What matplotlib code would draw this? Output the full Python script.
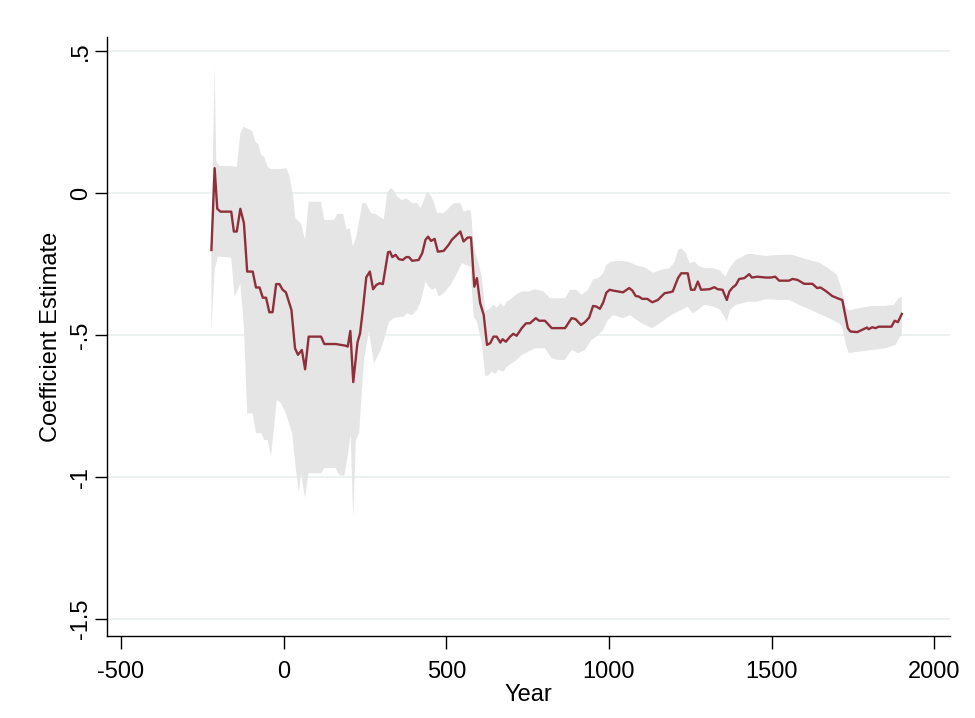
import numpy as np
import matplotlib.pyplot as plt

plt.rcParams['font.family'] = ['Liberation Sans', 'DejaVu Sans']
plt.rcParams['axes.unicode_minus'] = False

# rolling coefficient estimate
anni = [-222, -212, -204, -194, -161, -153, -144, -133, -122, -112, -95, -85, -74, -64, -54, -44, -34, -23, -13, -3,
        7, 24, 35, 44, 56, 66, 77, 115, 125, 160, 191, 197, 205, 214, 227, 235, 244, 254, 265, 275,
        285, 295, 305, 321, 327, 334, 344, 354, 366, 377, 385, 395, 415, 426, 436, 444, 453, 464, 474, 492,
        507, 517, 543, 553, 566, 576, 586, 594, 604, 615, 625, 635, 645, 655, 666, 673, 683, 696, 706, 716,
        732, 745, 757, 775, 785, 803, 824, 865, 885, 897, 914, 926, 939, 951, 961, 972, 982, 992, 1002, 1013,
        1043, 1062, 1072, 1082, 1092, 1102, 1118, 1125, 1133, 1150, 1171, 1186, 1196, 1212, 1222, 1242, 1252, 1263, 1273, 1283,
        1309, 1324, 1334, 1349, 1362, 1370, 1380, 1390, 1400, 1416, 1431, 1439, 1456, 1482, 1497, 1511, 1523, 1553, 1564, 1579,
        1600, 1625, 1640, 1650, 1666, 1686, 1707, 1717, 1727, 1734, 1742, 1763, 1778, 1793, 1798, 1809, 1819, 1829, 1868, 1878,
        1888, 1900]
coef = [-0.200, 0.088, -0.055, -0.065, -0.065, -0.135, -0.135, -0.055, -0.106, -0.276, -0.276, -0.332, -0.332, -0.368, -0.368, -0.419, -0.419, -0.320, -0.320, -0.340,
        -0.349, -0.411, -0.546, -0.569, -0.552, -0.620, -0.505, -0.505, -0.531, -0.531, -0.537, -0.540, -0.485, -0.665, -0.525, -0.493, -0.405, -0.296, -0.276, -0.338,
        -0.323, -0.317, -0.320, -0.208, -0.206, -0.225, -0.217, -0.232, -0.235, -0.225, -0.225, -0.238, -0.235, -0.211, -0.164, -0.153, -0.168, -0.161, -0.206, -0.203,
        -0.182, -0.164, -0.135, -0.170, -0.156, -0.156, -0.329, -0.299, -0.387, -0.429, -0.534, -0.528, -0.505, -0.505, -0.526, -0.514, -0.523, -0.505, -0.495, -0.502,
        -0.475, -0.458, -0.458, -0.440, -0.449, -0.449, -0.475, -0.475, -0.440, -0.443, -0.464, -0.454, -0.438, -0.397, -0.399, -0.407, -0.385, -0.350, -0.340, -0.343,
        -0.349, -0.334, -0.343, -0.362, -0.364, -0.372, -0.372, -0.378, -0.384, -0.376, -0.352, -0.349, -0.346, -0.299, -0.282, -0.282, -0.340, -0.340, -0.311, -0.340,
        -0.338, -0.331, -0.338, -0.340, -0.376, -0.346, -0.332, -0.323, -0.302, -0.299, -0.285, -0.297, -0.294, -0.297, -0.297, -0.294, -0.308, -0.308, -0.302, -0.305,
        -0.319, -0.319, -0.334, -0.332, -0.344, -0.362, -0.372, -0.376, -0.434, -0.475, -0.487, -0.489, -0.481, -0.473, -0.479, -0.472, -0.475, -0.470, -0.470, -0.449,
        -0.454, -0.425]

# upper bound of the confidence band
anni_sup = [-222, -212, -207, -197, -161, -144, -133, -123, -97, -87, -77, -69, -59, -49, -39, -13, 9, 17, 28, 36,
            53, 66, 77, 115, 125, 155, 165, 183, 193, 203, 213, 224, 242, 252, 269, 283, 293, 308, 318, 329,
            339, 349, 364, 375, 385, 395, 410, 421, 431, 441, 451, 461, 472, 492, 507, 523, 543, 553, 569, 576,
            584, 599, 609, 620, 635, 645, 655, 666, 676, 686, 701, 716, 732, 752, 773, 798, 819, 865, 880, 900,
            915, 936, 951, 967, 982, 992, 1007, 1028, 1058, 1089, 1110, 1135, 1166, 1186, 1201, 1212, 1222, 1237, 1247, 1263,
            1276, 1293, 1319, 1339, 1358, 1370, 1390, 1411, 1426, 1441, 1456, 1482, 1523, 1564, 1604, 1645, 1671, 1701, 1717, 1727,
            1737, 1768, 1809, 1849, 1875, 1890, 1900]
ci_sup = [-0.147, 0.446, 0.111, 0.096, 0.096, 0.092, 0.211, 0.234, 0.220, 0.182, 0.170, 0.135, 0.127, 0.092, 0.085, 0.085, 0.088, 0.064, 0.000, -0.088,
          -0.106, -0.164, -0.030, -0.030, -0.094, -0.094, -0.073, -0.073, -0.129, -0.123, -0.188, -0.149, -0.035, -0.035, -0.070, -0.073, -0.082, -0.092, 0.000, 0.018,
          0.009, -0.012, -0.024, -0.018, -0.024, -0.035, -0.035, -0.053, -0.024, 0.006, -0.006, -0.030, -0.070, -0.070, -0.053, -0.035, -0.035, -0.065, -0.059, -0.065,
          -0.188, -0.246, -0.294, -0.417, -0.405, -0.393, -0.403, -0.387, -0.399, -0.382, -0.370, -0.355, -0.346, -0.346, -0.338, -0.346, -0.370, -0.370, -0.340, -0.340,
          -0.358, -0.340, -0.303, -0.299, -0.282, -0.252, -0.241, -0.238, -0.241, -0.256, -0.261, -0.280, -0.268, -0.264, -0.244, -0.200, -0.194, -0.211, -0.246, -0.241,
          -0.256, -0.264, -0.264, -0.270, -0.294, -0.264, -0.235, -0.223, -0.214, -0.214, -0.217, -0.221, -0.217, -0.217, -0.232, -0.244, -0.262, -0.288, -0.346, -0.399,
          -0.413, -0.405, -0.397, -0.397, -0.393, -0.370, -0.364]

# lower bound of the confidence band
anni_inf = [-222, -212, -202, -161, -151, -141, -133, -122, -112, -95, -85, -69, -59, -49, -39, -21, -8, 7, 26, 38,
            47, 53, 66, 76, 115, 125, 160, 171, 186, 196, 206, 214, 222, 232, 247, 262, 278, 298, 308, 324,
            339, 359, 369, 380, 395, 410, 421, 436, 446, 456, 467, 477, 492, 513, 533, 548, 559, 574, 584, 594,
            609, 620, 630, 640, 650, 660, 676, 686, 701, 716, 732, 752, 773, 803, 824, 844, 865, 885, 905, 926,
            946, 967, 982, 997, 1013, 1043, 1064, 1084, 1104, 1133, 1156, 1181, 1201, 1222, 1242, 1257, 1273, 1293, 1319, 1339,
            1355, 1362, 1372, 1390, 1411, 1431, 1456, 1482, 1523, 1553, 1584, 1620, 1655, 1686, 1707, 1717, 1727, 1737, 1768, 1809,
            1849, 1881, 1892, 1900]
ci_inf = [-0.481, -0.270, -0.223, -0.227, -0.364, -0.340, -0.317, -0.470, -0.775, -0.775, -0.845, -0.845, -0.869, -0.869, -0.927, -0.728, -0.739, -0.775, -0.845, -0.974,
          -1.056, -0.986, -1.074, -0.986, -0.986, -0.968, -0.968, -0.992, -0.995, -0.933, -0.851, -1.144, -0.869, -0.845, -0.587, -0.487, -0.599, -0.552, -0.517, -0.453,
          -0.440, -0.435, -0.435, -0.423, -0.429, -0.411, -0.382, -0.311, -0.329, -0.340, -0.334, -0.364, -0.352, -0.323, -0.282, -0.246, -0.252, -0.258, -0.435, -0.452,
          -0.528, -0.646, -0.640, -0.628, -0.637, -0.622, -0.628, -0.611, -0.599, -0.587, -0.569, -0.558, -0.546, -0.546, -0.581, -0.587, -0.587, -0.552, -0.563, -0.552,
          -0.517, -0.501, -0.481, -0.446, -0.429, -0.440, -0.429, -0.446, -0.460, -0.475, -0.458, -0.437, -0.423, -0.411, -0.399, -0.423, -0.411, -0.393, -0.399, -0.408,
          -0.435, -0.452, -0.411, -0.393, -0.387, -0.382, -0.382, -0.373, -0.376, -0.376, -0.393, -0.411, -0.429, -0.446, -0.458, -0.470, -0.528, -0.563, -0.558, -0.552,
          -0.546, -0.534, -0.511, -0.499]

xtick = [-500, 0, 500, 1000, 1500, 2000]
ytick = [0.5, 0, -0.5, -1, -1.5]
ytick_lab = ['.5', '0', '-.5', '-1', '-1.5']

fig = plt.figure(figsize=(9.75, 7.18), dpi=100)
ax = fig.add_axes([0.1097, 0.1142, 0.8643, 0.8343])

# banda: contorno superiore + contorno inferiore al contrario
ax.fill(np.concatenate([anni_sup, anni_inf[::-1]]),
        np.concatenate([ci_sup, ci_inf[::-1]]),
        color='#e5e5e5', lw=0, zorder=2)
ax.plot(anni, coef, color='#8f2f3a', lw=1.7, zorder=3)

ax.set_xlim(-543, 2047)
ax.set_ylim(-1.559, 0.55)
ax.set_xticks(xtick)
ax.set_yticks(ytick)
ax.set_yticklabels(ytick_lab, rotation=90, va='center')
ax.grid(axis='y', color='#eaf0f1', lw=1.3, zorder=1)
ax.set_axisbelow(True)

for s in ['top', 'right']:
    ax.spines[s].set_visible(False)
for s in ['left', 'bottom']:
    ax.spines[s].set_linewidth(1.0)
ax.tick_params(axis='both', direction='out', length=9, width=1.0, labelsize=17)
ax.tick_params(axis='x', pad=9)
ax.tick_params(axis='y', pad=1.5)

ax.set_xlabel('Year', fontsize=17, labelpad=1)
ax.set_ylabel('Coefficient Estimate', fontsize=17, labelpad=6)

fig.savefig('out.png', dpi=100, facecolor='white')
